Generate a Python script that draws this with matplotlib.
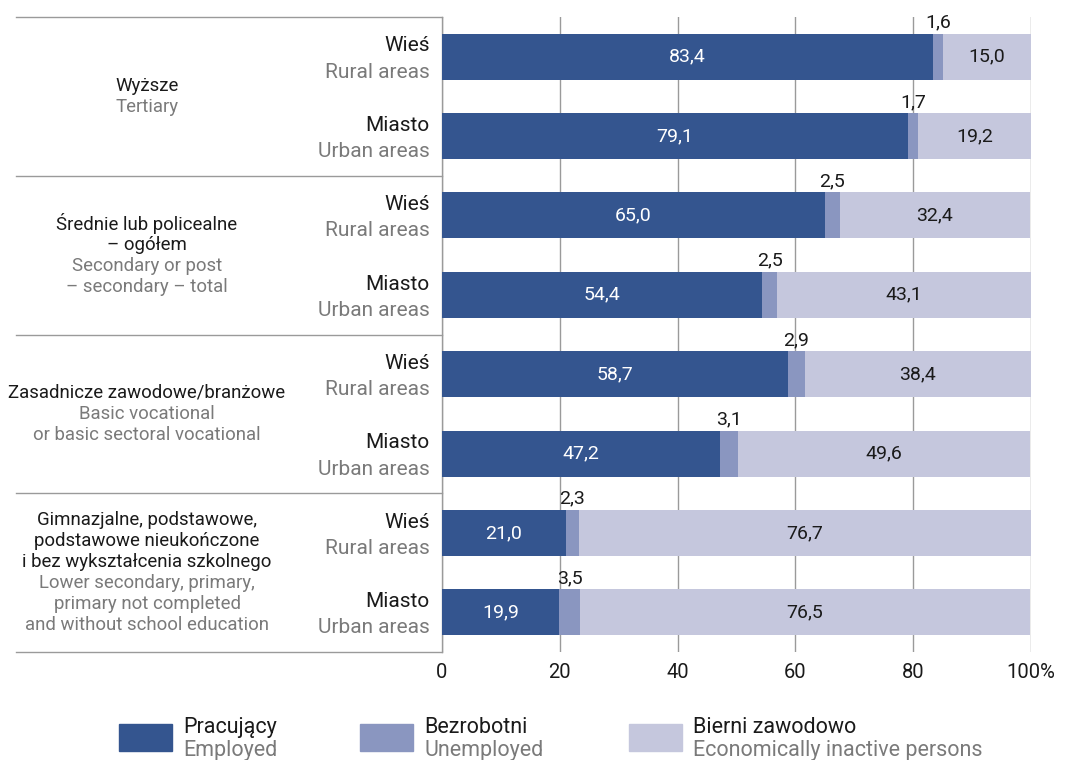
import matplotlib.pyplot as plt
import matplotlib.transforms as mtransforms
from matplotlib.patches import Rectangle
from matplotlib.lines import Line2D

plt.rcParams['font.family'] = ['Roboto', 'DejaVu Sans']

# dane (%)
pracujacy = [83.4, 79.1, 65.0, 54.4, 58.7, 47.2, 21.0, 19.9]
bezrobotni = [1.6, 1.7, 2.5, 2.5, 2.9, 3.1, 2.3, 3.5]
bierni = [15.0, 19.2, 32.4, 43.1, 38.4, 49.6, 76.7, 76.5]

wiersze_pl = ['Wieś', 'Miasto'] * 4
wiersze_en = ['Rural areas', 'Urban areas'] * 4

grupy_pl = [
    ['Wyższe'],
    ['Średnie lub policealne', '– ogółem'],
    ['Zasadnicze zawodowe/branżowe'],
    ['Gimnazjalne, podstawowe,', 'podstawowe nieukończone', 'i bez wykształcenia szkolnego'],
]
grupy_en = [
    ['Tertiary'],
    ['Secondary or post', '– secondary – total'],
    ['Basic vocational', 'or basic sectoral vocational'],
    ['Lower secondary, primary,', 'primary not completed', 'and without school education'],
]

legenda_pl = ['Pracujący', 'Bezrobotni', 'Bierni zawodowo']
legenda_en = ['Employed', 'Unemployed', 'Economically inactive persons']

kolory = ['#34558f', '#8a96c0', '#c5c7dd']
czarny = '#1a1a1a'
szary = '#7a7a7a'
linia = '#9a9a9a'

def fmt(v):
    return f'{v:.1f}'.replace('.', ',')

fig = plt.figure(figsize=(10.69, 7.6), dpi=100)
ax = fig.add_axes([442 / 1069, 108 / 760, 589 / 1069, 635 / 760])

y = list(range(len(pracujacy)))
h = 0.58
lewo2 = [a + b for a, b in zip(pracujacy, bezrobotni)]
ax.barh(y, pracujacy, height=h, color=kolory[0], zorder=3)
ax.barh(y, bezrobotni, left=pracujacy, height=h, color=kolory[1], zorder=3)
ax.barh(y, bierni, left=lewo2, height=h, color=kolory[2], zorder=3)

for i in y:
    ax.text(pracujacy[i] / 2, i, fmt(pracujacy[i]), ha='center', va='center',
            color='white', fontsize=14, zorder=4)
    ax.annotate(fmt(bezrobotni[i]), xy=(pracujacy[i] + bezrobotni[i] / 2, i - h / 2),
                xytext=(0, 1.5), textcoords='offset points', ha='center', va='bottom',
                color=czarny, fontsize=14, zorder=4)
    ax.text(lewo2[i] + bierni[i] / 2, i, fmt(bierni[i]), ha='center', va='center',
            color=czarny, fontsize=14, zorder=4)

ax.set_xlim(0, 100)
ax.set_ylim(len(y) - 0.5, -0.5)
ax.set_xticks([0, 20, 40, 60, 80, 100])
ax.set_xticklabels(['0', '20', '40', '60', '80', '100%'])
ax.set_yticks([])
ax.tick_params(axis='x', length=0, pad=8, labelsize=14.5, labelcolor=czarny)
ax.grid(axis='x', color=linia, linewidth=1, zorder=0)
for s in ['top', 'right', 'bottom']:
    ax.spines[s].set_visible(False)
ax.spines['left'].set_color(linia)
ax.spines['left'].set_linewidth(1)

# etykiety wierszy
for i in y:
    ax.annotate(wiersze_pl[i], xy=(0, i), xytext=(-9, 3.8), textcoords='offset points',
                ha='right', va='baseline', color=czarny, fontsize=15)
    ax.annotate(wiersze_en[i], xy=(0, i), xytext=(-9, -15.1), textcoords='offset points',
                ha='right', va='baseline', color=szary, fontsize=15)

# etykiety grup i linie podziału
tr = mtransforms.blended_transform_factory(fig.transFigure, ax.transData)
for g in range(4):
    srodek = 2 * g + 0.5
    linie = [(t, czarny) for t in grupy_pl[g]] + [(t, szary) for t in grupy_en[g]]
    n = len(linie)
    for k, (t, c) in enumerate(linie):
        off = -(k - (n - 1) / 2) * 15.1
        ax.annotate(t, xy=(147 / 1069, srodek), xycoords=tr, xytext=(0, off),
                    textcoords='offset points', ha='center', va='center',
                    color=c, fontsize=13.4)

for yy in [-0.5, 1.5, 3.5, 5.5, 7.5]:
    fig.add_artist(Line2D([16 / 1069, 442 / 1069], [yy, yy], transform=tr,
                          color=linia, linewidth=1))

# legenda
kw_x = [119, 360, 629]
for k in range(3):
    fig.add_artist(Rectangle((kw_x[k] / 1069, 1 - 751 / 760), 53 / 1069, 27 / 760,
                             transform=fig.transFigure, color=kolory[k]))
    fig.text((kw_x[k] + 64) / 1069, 1 - 733 / 760, legenda_pl[k], ha='left',
             va='baseline', color=czarny, fontsize=15.5)
    fig.text((kw_x[k] + 64) / 1069, 1 - 756 / 760, legenda_en[k], ha='left',
             va='baseline', color=szary, fontsize=15.5)

fig.savefig('out.png', dpi=100)
